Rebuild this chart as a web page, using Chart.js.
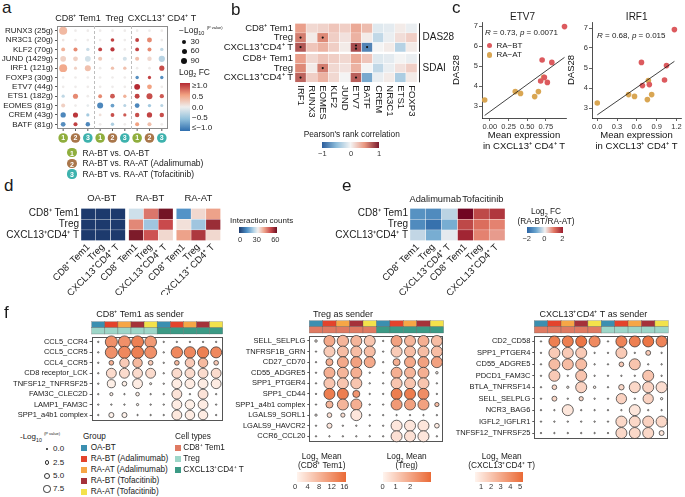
<!DOCTYPE html>
<html>
<head>
<meta charset="utf-8">
<script src="https://cdn.jsdelivr.net/npm/chart.js@4.4.1/dist/chart.umd.min.js"></script>
<style>
  body { margin: 0; width: 685px; height: 497px; position: relative; overflow: hidden; background: #fff;
         font-family: "Liberation Sans", Arial, sans-serif; color: #1a1a1a; }
  .t { position: absolute; white-space: nowrap; line-height: 1; }
  .box, .sw { position: absolute; }
  sub, sup { font-size: 65%; line-height: 0; }
</style>
</head>
<body>
<script>
// ---------- panel a: TF differential expression ----------
const aRows = ['RUNX3 (25g)', 'NR3C1 (20g)', 'KLF2 (70g)', 'JUND (1429g)', 'IRF1 (121g)', 'FOXP3 (30g)',
  'ETV7 (44g)', 'ETS1 (182g)', 'EOMES (81g)', 'CREM (43g)', 'BATF (81g)'];
const aCellTypes = ['CD8⁺ Tem1', 'Treg', 'CXCL13⁺ CD4⁺ T'];
const aComparisons = ['RA-BT vs. OA-BT', 'RA-BT vs. RA-AT (Adalimumab)', 'RA-BT vs. RA-AT (Tofacitinib)'];
const aColComp = [0, 1, 2, 0, 1, 2, 0, 1, 2];
const aFC = [
  [0.35, 0.02, 0.02, 0.02, 0.02, 0.02, 0.02, 0.02, 0.02],
  [0.05, 0.02, 0.02, 0.02, 0.9, 0.02, 0.9, 0.6, 0.02],
  [0.4, 0.6, -0.2, 0.9, 0.95, 0.02, 0.9, 0.6, -0.25],
  [0.2, 0.2, -0.15, 0.25, 0.02, -0.15, 0.3, 0.15, -0.3],
  [0.45, 0.2, 0.3, 0.02, 0.3, 0.3, 0.02, 0.02, 0.85],
  [0.02, 0.02, 0.02, 0.02, 0.02, 0.02, -0.8, 0.9, -0.8],
  [0.02, 0.02, 0.02, 0.02, 0.02, 0.02, 1.0, 0.5, 0.02],
  [-0.25, 0.6, 0.02, 0.6, 0.8, 0.4, 0.9, 0.85, 0.8],
  [0.2, 0.02, -0.05, -0.85, -0.7, -0.3, -0.85, -0.4, -0.3],
  [-0.85, 0.95, -0.4, 0.1, 0.85, 0.8, 0.85, 0.9, 0.85],
  [-0.8, 0.9, -0.85, 0.02, -0.35, 0.02, 0.5, 0.3, 0.02]
];
const aLogP = [
  [180, 1, 1, 1, 1, 1, 1, 1, 1],
  [2, 1, 1, 1, 20, 1, 25, 55, 1],
  [25, 30, 15, 25, 35, 1, 25, 28, 15],
  [80, 50, 80, 30, 2, 30, 30, 40, 100],
  [175, 8, 90, 1, 15, 15, 1, 1, 60],
  [1, 1, 1, 1, 1, 1, 15, 12, 15],
  [1, 1, 1, 1, 1, 1, 85, 50, 1],
  [12, 60, 2, 25, 50, 15, 55, 90, 35],
  [30, 2, 2, 90, 25, 8, 50, 15, 8],
  [65, 60, 12, 3, 25, 12, 40, 65, 40],
  [50, 30, 40, 2, 15, 2, 30, 30, 2]
];
const aSizeBreaks = [30, 60, 90];

// ---------- panel b: correlation with disease activity ----------
const bGenes = ['IRF1', 'RUNX3', 'EOMES', 'KLF2', 'JUND', 'ETV7', 'BATF', 'CREM', 'NR3C1', 'ETS1', 'FOXP3'];
const bRows = ['CD8⁺ Tem1', 'Treg', 'CXCL13⁺CD4⁺ T', 'CD8+ Tem1', 'Treg', 'CXCL13⁺CD4⁺ T'];
const bScores = ['DAS28', 'SDAI'];
const bR = [
  [0.45, 0.15, 0.18, 0.25, 0.2, 0.4, 0.3, -0.1, -0.08, 0.05, -0.05],
  [0.6, 0.05, 0.55, 0.2, 0.1, 0.35, 0.05, -0.25, -0.05, 0.12, 0.2],
  [0.75, 0.25, 0.35, 0.2, 0.05, 0.8, -0.8, 0.0, 0.05, -0.3, 0.05],
  [0.45, 0.15, 0.25, 0.2, 0.15, 0.4, 0.25, -0.1, -0.08, 0.0, -0.05],
  [0.55, 0.05, 0.6, 0.15, 0.1, 0.35, 0.0, -0.25, -0.05, 0.1, 0.2],
  [0.7, 0.2, 0.35, 0.15, 0.0, 0.72, -0.6, -0.05, 0.05, -0.35, 0.05]
];
const bStars = [[1, 0, 1], [1, 2, 1], [2, 0, 1], [2, 5, 2], [2, 6, 1], [4, 2, 1], [5, 0, 1], [5, 5, 1]];

// ---------- panel c: DAS28 vs mean expression ----------
const etv7BTx = [1.0, 0.70, 0.83, 0.68, 0.73, 0.77];
const etv7BTy = [6.97, 5.3, 5.18, 4.25, 4.43, 4.18];
const etv7ATx = [-0.07, 0.34, 0.41, 0.60, 0.65, 0.72];
const etv7ATy = [3.3, 3.72, 3.63, 3.47, 3.72, 4.43];
const irf1BTx = [1.17, 0.67, 1.05, 0.685, 0.79, 1.02];
const irf1BTy = [6.92, 5.28, 5.12, 4.12, 4.17, 4.4];
const irf1ATx = [0.0, 0.475, 0.565, 0.775, 0.825, 0.76];
const irf1ATy = [3.25, 3.67, 3.58, 4.37, 3.67, 3.42];
const etv7Ticks = [0, 0.25, 0.5, 0.75];
const irf1Ticks = [0, 0.3, 0.6, 0.9, 1.2];
const dasTicks = [3, 4, 5, 6, 7];

// ---------- panel d / e: interaction heatmaps ----------
const dGroups = ['OA-BT', 'RA-BT', 'RA-AT'];
const dCells = ['CD8⁺ Tem1', 'Treg', 'CXCL13⁺CD4⁺ T'];
const dColNames = [['CD8⁺ Tem1', 'Treg', 'CXCL13⁺CD4⁺ T'], ['CD8⁺ Tem1', 'Treg', 'CXCL13⁺CD4⁺ T'], ['CD8⁺ Tem1', 'Treg', 'CXCL13⁺ CD4⁺ T']];
const dCounts = [
  [[0, 0, 0], [0, 0, 0], [0, 0, 0]],
  [[26, 45, 59], [43, 21, 50], [58, 49, 33]],
  [[13, 33, 40], [32, 21, 55], [40, 53, 33]]
];
const eDrugs = ['Adalimumab', 'Tofacitinib'];
const eFC = [
  [-1.3, -1.4, -0.4, 2.4, 1.5, 1.7],
  [-1.4, -1.8, -0.9, 1.5, 1.1, 0.9],
  [-0.35, -0.9, -0.1, 1.9, 0.9, 0.7]
];

// ---------- panel f: ligand-receptor dot plots ----------
const fGroups = ['OA-BT', 'RA-BT (Adalimumab)', 'RA-AT (Adalimumab)', 'RA-BT (Tofacitinib)', 'RA-AT (Tofacitinib)'];
const fCellTypes = ['CD8⁺ Tem1', 'Treg', 'CXCL13⁺CD4⁺ T'];
const f1Rows = ['CCL5_CCR4', 'CCL5_CCR5', 'CCL4_CCR5', 'CD8 receptor_LCK', 'TNFSF12_TNFRSF25', 'FAM3C_CLEC2D', 'LAMP1_FAM3C', 'SPP1_a4b1 complex'];
const f1P = [
  [0, 18, 18, 18, 17, 0, 0, 0, 0, 0],
  [0, 18, 18, 18, 18, 0, 16, 16, 16, 15],
  [0, 2.5, 11, 11, 2.5, 0, 2.5, 11, 11, 2.5],
  [0, 12, 12, 12, 12, 0, 12, 12, 12, 12],
  [0, 8, 2.5, 12, 0.3, 0, 12, 12, 12, 12],
  [0, 1, 0, 1.4, 0, 0, 12, 0, 12, 0],
  [0, 0, 0, 0.4, 0, 0, 12, 11, 12, 0],
  [0, 3, 3, 0, 0, 0, 12, 11, 11, 0]
];
const f1Mean = [
  [0, 12, 12, 14, 11, 0, 0, 0, 0, 0],
  [0, 12, 13, 14, 12, 0, 13, 13, 14, 13],
  [0, 8, 5, 7, 5, 0, 7, 5, 7, 5],
  [0, 3, 3, 3, 3, 0, 3, 3, 3, 3],
  [0, 0.5, 0.5, 1, 0.5, 0, 1, 1, 1, 1],
  [0, 0.5, 0, 0.5, 0, 0, 2, 0, 2, 0],
  [0, 0, 0, 0, 0, 0, 1, 0.5, 1, 0],
  [0, 0.3, 0.3, 0, 0, 0, 1.5, 1, 1, 0]
];
const f2Rows = ['SELL_SELPLG', 'TNFRSF1B_GRN', 'CD27_CD70', 'CD55_ADGRE5', 'SPP1_PTGER4', 'SPP1_CD44', 'SPP1_a4b1 complex', 'LGALS9_SORL1', 'LGALS9_HAVCR2', 'CCR6_CCL20'];
const f2P = [
  [0.5, 15, 16, 15, 15, 0, 15, 15, 15, 15],
  [0, 15, 15, 15, 15, 0, 15, 15, 15, 15],
  [0, 6, 15, 15, 15, 0, 6, 15, 15, 15],
  [0, 15, 15, 15, 0, 0, 15, 15, 15, 0.5],
  [0, 15, 15, 15, 0, 0, 15, 15, 15, 0],
  [0, 15, 15, 6, 0, 0, 15, 15, 15, 0],
  [0, 6, 15, 15, 0, 0, 15, 15, 15, 2],
  [0.4, 2.5, 2, 15, 0, 0, 0, 0, 0, 0],
  [0, 3, 0, 0, 0, 0, 15, 15, 15, 2.5],
  [0, 0, 0, 0, 0, 0, 15, 15, 15, 0]
];
const f2Mean = [
  [0, 1.9, 1.6, 1.6, 1.2, 0, 2.1, 1.6, 1.75, 1.4],
  [0, 1.05, 1.4, 1.4, 1.4, 0, 1.05, 1.4, 1.4, 1.4],
  [0, 1.75, 1.9, 2.1, 1.9, 0, 1.75, 1.9, 2.1, 2.1],
  [0, 1.75, 1.6, 1.75, 0, 0, 1.75, 1.6, 1.75, 0],
  [0, 1.2, 1.2, 1.2, 0, 0, 1.2, 1.2, 1.2, 0],
  [0, 3.0, 3.0, 2.4, 0, 0, 3.0, 3.0, 2.6, 0],
  [0, 1.6, 1.6, 1.75, 0, 0, 2.3, 2.1, 2.1, 1.4],
  [0, 0.5, 0.5, 0.35, 0, 0, 0, 0, 0, 0],
  [0, 0.35, 0, 0, 0, 0, 0.35, 0.35, 0.35, 0.2],
  [0, 0, 0, 0, 0, 0, 0.5, 0.5, 0.35, 0]
];
const f3Rows = ['CD2_CD58', 'SPP1_PTGER4', 'CD55_ADGRE5', 'PDCD1_FAM3C', 'BTLA_TNFRSF14', 'SELL_SELPLG', 'NCR3_BAG6', 'IGFL2_IGFLR1', 'TNFSF12_TNFRSF25'];
const f3P = [
  [0, 15, 15, 15, 15, 0, 15, 15, 15, 15],
  [0, 15, 15, 15, 0, 0, 15, 0, 2.8, 0],
  [0, 15, 15, 15, 0, 0, 2.5, 15, 0, 0],
  [0, 15, 0, 15, 0, 0, 0, 0, 15, 0],
  [0, 2.5, 0.4, 15, 0.5, 0, 3.5, 15, 15, 15],
  [0, 2.8, 0, 2, 0, 0, 13, 0, 13, 0.4],
  [0, 0, 15, 0, 0, 0, 0, 15, 0, 0],
  [0, 0, 0, 0, 0, 0, 15, 15, 15, 15],
  [0, 0, 0, 0, 0, 0, 15, 15, 15, 2.8]
];
const f3Mean = [
  [0, 4.6, 4.6, 4.9, 4.2, 0, 4.4, 4.6, 4.9, 4.4],
  [0, 1.9, 1.9, 1.9, 0, 0, 1.9, 0, 1.9, 0],
  [0, 2.4, 2.4, 2.4, 0, 0, 1.9, 2.1, 0, 0],
  [0, 1.9, 0, 2.1, 0, 0, 0, 0, 2.1, 0],
  [0, 1.4, 0, 1.6, 0, 0, 1.4, 1.4, 1.6, 1.2],
  [0, 1.4, 0, 1.4, 0, 0, 1.6, 0, 1.6, 0],
  [0, 0, 0.9, 0, 0, 0, 0, 0.9, 0, 0],
  [0, 0, 0, 0, 0, 0, 1.4, 1.4, 1.6, 1.4],
  [0, 0, 0, 0, 0, 0, 1.4, 1.4, 1.4, 0.9]
];
const fSizeBreaks = [0, 2.5, 5, 7.5];

// ---------- colours ----------
const compColors = ['#8fae3d', '#a9764a', '#3db2ad'];
const groupColors = ['#3b8fb0', '#e3432c', '#f6a646', '#a5323a', '#f3e24b'];
const cellColors = ['#df7a62', '#9dd6c8', '#3b9a85'];
const RED = '#dc5a5e', GOLD = '#d9a653';
const FONT = '"Liberation Sans", Arial, sans-serif';

const aStops = [[-1, '#2f6eae'], [-0.5, '#92c1dc'], [0, '#eeeeee'], [0.5, '#f2a282'], [1, '#b52a33']];
const bStops = [[-1, '#2b5d9c'], [-0.5, '#8dbcda'], [0, '#f4f4f4'], [0.5, '#e9967f'], [1, '#7b1a2d']];
const dStops = [[0, '#1d3a6d'], [12, '#4b8dc4'], [24, '#bcd8e8'], [30, '#f3efed'], [40, '#eda28a'], [50, '#c94a4c'], [60, '#6a0f21']];
const eStops = [[-2, '#2a64a5'], [-1, '#6aa5cf'], [0, '#f1f1f1'], [1, '#e27662'], [2, '#9a1c2e'], [2.5, '#67001f']];
const fStops = [[0, '#fff4ee'], [1, '#ea6a36']];

const hex = h => [1, 3, 5].map(i => parseInt(h.slice(i, i + 2), 16));
function ramp(stops) {
  const s = stops.map(([v, c]) => [v, hex(c)]);
  return v => {
    let c = s[s.length - 1][1];
    if (v <= s[0][0]) c = s[0][1];
    else for (let i = 1; i < s.length; i++) {
      if (v <= s[i][0]) {
        const t = (v - s[i - 1][0]) / (s[i][0] - s[i - 1][0]);
        c = s[i - 1][1].map((a, k) => Math.round(a + (s[i][1][k] - a) * t));
        break;
      }
    }
    return 'rgb(' + c.join(',') + ')';
  };
}
function grad(stops, dir) {
  const lo = stops[0][0], hi = stops[stops.length - 1][0];
  return 'linear-gradient(' + dir + ',' + stops.map(([v, c]) => c + ' ' + ((v - lo) / (hi - lo) * 100) + '%').join(',') + ')';
}
const aColor = ramp(aStops), bColor = ramp(bStops), dColor = ramp(dStops), eColor = ramp(eStops);
const fColor = (lo, hi) => { const r = ramp(fStops); return v => r((v - lo) / (hi - lo)); };
const rA = p => Math.sqrt(1.69 + 0.081 * p);
const rF = p => Math.sqrt(0.5 + 2 * p);

// ---------- dom helpers ----------
function mk(l, t, w, h) {
  const d = document.createElement('div');
  d.className = 'box';
  Object.assign(d.style, { left: l + 'px', top: t + 'px', width: w + 'px', height: h + 'px' });
  const c = document.createElement('canvas');
  d.appendChild(c);
  document.body.appendChild(d);
  return c;
}
function put(x, y, html, size, align, extra) {
  const d = document.createElement('div');
  d.className = 't';
  d.innerHTML = html;
  d.style.left = x + 'px';
  d.style.top = y + 'px';
  d.style.fontSize = size + 'px';
  d.style.transform = 'translate(' + (align === 'c' ? '-50%' : align === 'r' ? '-100%' : '0') + ',-50%)';
  if (extra) Object.assign(d.style, extra);
  document.body.appendChild(d);
  return d;
}
function rect(l, t, w, h, bg, extra) {
  const d = document.createElement('div');
  d.className = 'sw';
  Object.assign(d.style, { left: l + 'px', top: t + 'px', width: w + 'px', height: h + 'px', background: bg }, extra || {});
  document.body.appendChild(d);
  return d;
}
const disc = (cx, cy, r, bg, border) => rect(cx - r, cy - r, 2 * r, 2 * r, bg, { borderRadius: '50%', border: border || 'none', boxSizing: 'border-box' });

Chart.defaults.font.family = FONT;
Chart.defaults.color = '#1a1a1a';
Chart.defaults.animation = false;
Chart.defaults.events = [];
Chart.defaults.maintainAspectRatio = false;
Chart.defaults.plugins.legend.display = false;
Chart.defaults.plugins.tooltip.enabled = false;

function rowAxis(labels, w, size, min, max, pos, tick) {
  return {
    min, max, reverse: true,
    afterBuildTicks: s => { s.ticks = labels.map((_, i) => ({ value: pos[i] })); },
    afterFit: s => { s.width = w; s.paddingTop = 0; s.paddingBottom = 0; },
    ticks: { autoSkip: false, padding: 2, font: { size }, color: '#1a1a1a', callback: (v, i) => labels[i] },
    grid: { display: !!tick, drawOnChartArea: false, drawTicks: !!tick, tickLength: 2, color: '#555' },
    border: { display: false }
  };
}
const frame = color => ({
  id: 'frame',
  beforeDatasetsDraw(ch) {
    const { ctx, chartArea: a } = ch;
    ctx.save();
    ctx.strokeStyle = color;
    ctx.lineWidth = 1;
    ctx.strokeRect(Math.round(a.left) + 0.5, Math.round(a.top) + 0.5, Math.round(a.width) - 1, Math.round(a.height) - 1);
    ctx.restore();
  }
});

// ================= panel a =================
const aPts = [];
aRows.forEach((r, i) => aColComp.forEach((k, j) => aPts.push({ x: j, y: i, fc: aFC[i][j], p: aLogP[i][j] })));
const aDeco = {
  id: 'aDeco',
  beforeDatasetsDraw(ch) {
    const { ctx, chartArea: a, scales: { x } } = ch;
    ctx.save();
    ctx.strokeStyle = '#bdbdbd';
    ctx.setLineDash([3, 2]);
    [2.5, 5.5].forEach(v => {
      const px = Math.round(x.getPixelForValue(v)) + 0.5;
      ctx.beginPath(); ctx.moveTo(px, a.top); ctx.lineTo(px, a.bottom); ctx.stroke();
    });
    ctx.restore();
  },
  afterDraw(ch) {
    const { ctx, chartArea: a, scales: { x } } = ch;
    ctx.save();
    ctx.font = 'bold 7px ' + FONT;
    ctx.textAlign = 'center';
    ctx.textBaseline = 'middle';
    aColComp.forEach((k, j) => {
      const px = x.getPixelForValue(j);
      ctx.strokeStyle = '#555';
      ctx.beginPath(); ctx.moveTo(px, a.bottom); ctx.lineTo(px, a.bottom + 2); ctx.stroke();
      ctx.fillStyle = compColors[k];
      ctx.beginPath(); ctx.arc(px, a.bottom + 9, 4.8, 0, 2 * Math.PI); ctx.fill();
      ctx.fillStyle = '#fff';
      ctx.fillText(String(k + 1), px, a.bottom + 9.4);
    });
    ctx.restore();
  }
};
new Chart(mk(0, 20, 172, 125), {
  type: 'scatter',
  data: { datasets: [{
    data: aPts, clip: false,
    pointRadius: c => rA(c.raw.p),
    pointBackgroundColor: c => aColor(c.raw.fc),
    pointBorderWidth: 0
  }] },
  options: {
    layout: { padding: { top: 6, bottom: 16, left: 0, right: 0 } },
    scales: {
      x: { min: -0.5, max: 8.5, display: false },
      y: rowAxis(aRows, 57, 8, -0.5, aRows.length - 0.5, aRows.map((_, i) => i), true)
    }
  },
  plugins: [frame('#8c8c8c'), aDeco]
});

put(2, 7, 'a', 17);
[[78, 0], [114.5, 1], [162, 2]].forEach(([x, k]) => put(x, 18.3, aCellTypes[k], 9, 'c'));
put(179, 30, '−Log<sub>10</sub> <sup style="font-size:4px">(P value)</sup>', 8.5);
aSizeBreaks.forEach((v, i) => {
  const y = [41.7, 51.3, 60.7][i];
  disc(184.3, y, rA(v), '#111');
  put(190.5, y, String(v), 8);
});
put(179, 72, 'Log<sub>2</sub> FC', 8.5);
rect(180, 83, 10, 48, grad(aStops, 'to top'));
[['≥1.0', 86], ['0.5', 97], ['0.0', 107.7], ['−0.5', 118.3], ['≤−1.0', 128.3]].forEach(([s, y]) => put(192, y, s, 8));
aComparisons.forEach((s, i) => {
  const y = [152.5, 163.2, 174][i];
  disc(72, y, 4.6, compColors[i]);
  put(72, y + 0.3, String(i + 1), 7, 'c', { color: '#fff', fontWeight: 'bold' });
  put(82.5, y, s, 8.5);
});

// ================= heatmap helper (b, d, e) =================
function heat(canvas, o) {
  const sets = [], ys = [];
  let acc = 0;
  o.vals.forEach((row, i) => {
    sets.push({ data: o.xs.map(x => ({ x, y: 1 })), backgroundColor: row.map(o.color), borderColor: '#fff', borderWidth: 0.5,
      borderSkipped: false, barPercentage: 1, categoryPercentage: 1 });
    ys.push(acc + 0.5);
    acc += 1;
    if (i === o.gapAfter) {
      sets.push({ data: o.xs.map(x => ({ x, y: 0.2 })), backgroundColor: 'rgba(0,0,0,0)', borderWidth: 0, barPercentage: 1, categoryPercentage: 1 });
      acc += 0.2;
    }
  });
  const xAxis = { type: 'linear', stacked: true, offset: false, min: o.xs[0] - 0.5, max: o.xs[o.xs.length - 1] + 0.5 };
  if (o.colLabels) {
    Object.assign(xAxis, {
      afterBuildTicks: s => { s.ticks = o.xs.map(v => ({ value: v })); },
      afterFit: s => { s.height = o.xH; s.paddingLeft = 0; s.paddingRight = 0; },
      ticks: { autoSkip: false, minRotation: 45, maxRotation: 45, padding: 1, font: { size: o.fsX }, color: '#1a1a1a', callback: (v, i) => o.colLabels[i] },
      grid: { display: false, drawTicks: false, offset: false },
      border: { display: false }
    });
  } else xAxis.display = false;
  const yAxis = rowAxis(o.rows, o.yW, o.fsY, 0, acc, ys, false);
  yAxis.stacked = true;
  return new Chart(canvas, {
    type: 'bar',
    data: { datasets: sets },
    options: { layout: { padding: o.pad }, scales: { x: xAxis, y: yAxis } },
    plugins: o.plugins || []
  });
}

// ================= panel b =================
const bRowY = [0.5, 1.5, 2.5, 3.7, 4.7, 5.7];
const bDeco = {
  id: 'bDeco',
  afterDraw(ch) {
    const { ctx, chartArea: a, scales: { x, y } } = ch;
    ctx.save();
    ctx.fillStyle = '#1a1a1a';
    ctx.font = '9.5px ' + FONT;
    ctx.textAlign = 'left';
    ctx.textBaseline = 'middle';
    bGenes.forEach((g, j) => {
      ctx.save();
      ctx.translate(x.getPixelForValue(j), a.bottom + 3);
      ctx.rotate(Math.PI / 2);
      ctx.fillText(g, 0, 0);
      ctx.restore();
    });
    ctx.fillStyle = '#111';
    bStars.forEach(([r, c, n]) => {
      const px = x.getPixelForValue(c), py = y.getPixelForValue(bRowY[r]);
      for (let k = 0; k < n; k++) {
        ctx.beginPath();
        ctx.arc(px, py + (n > 1 ? (k - 0.5) * 3.2 : 0), 1.1, 0, 2 * Math.PI);
        ctx.fill();
      }
    });
    ctx.strokeStyle = '#333';
    ctx.lineWidth = 1;
    ctx.font = '10px ' + FONT;
    const lx = Math.round(a.right + 2) + 0.5;
    [[0, 3], [3.2, 6.2]].forEach(([t, b], k) => {
      const y0 = y.getPixelForValue(t), y1 = y.getPixelForValue(b);
      ctx.beginPath(); ctx.moveTo(lx, y0); ctx.lineTo(lx, y1); ctx.stroke();
      ctx.fillStyle = '#1a1a1a';
      ctx.fillText(bScores[k], lx + 3, (y0 + y1) / 2);
    });
    ctx.restore();
  }
};
heat(mk(215, 20, 245, 100), {
  rows: bRows, vals: bR, xs: bGenes.map((_, j) => j), color: bColor, gapAfter: 2,
  yW: 80, fsY: 9.5, pad: { top: 3.3, right: 43, bottom: 37.7, left: 0 }, plugins: [bDeco]
});
put(231, 8.5, 'b', 17);
put(351.7, 134, 'Pearson\'s rank correlation', 8.3, 'c');
rect(322, 141.7, 57, 6, grad(bStops, 'to right'));
[['−1', 322.3], ['0', 351], ['1', 379]].forEach(([s, x]) => put(x, 154, s, 7.5, 'c', { color: '#333' }));

// ================= panel c =================
function fitLine(xs, ys) {
  const n = xs.length;
  const mx = xs.reduce((s, v) => s + v, 0) / n, my = ys.reduce((s, v) => s + v, 0) / n;
  let sxy = 0, sxx = 0;
  xs.forEach((v, i) => { sxy += (v - mx) * (ys[i] - my); sxx += (v - mx) * (v - mx); });
  const b = sxy / sxx, a0 = my - b * mx;
  const lo = Math.min(...xs), hi = Math.max(...xs);
  return [{ x: lo, y: a0 + b * lo }, { x: hi, y: a0 + b * hi }];
}
const pts = (xs, ys) => xs.map((x, i) => ({ x, y: ys[i] }));
function cAxis(min, max, ticks, dec, title, size, horiz) {
  return {
    type: 'linear', min, max,
    afterBuildTicks: s => { s.ticks = ticks.map(v => ({ value: v })); },
    afterFit: s => {
      if (horiz) s.height = size; else s.width = size;
      s.paddingLeft = s.paddingRight = s.paddingTop = s.paddingBottom = 0;
    },
    ticks: { autoSkip: false, maxRotation: 0, minRotation: 0, padding: 1, font: { size: 7.5 }, color: '#333', callback: v => v.toFixed(dec) },
    grid: { drawOnChartArea: false, drawTicks: true, tickLength: 3, color: '#222', lineWidth: 0.7 },
    border: { display: true, color: '#222', width: 0.8 },
    title: { display: true, text: title, font: { size: 9.5 }, color: '#111', padding: { top: 1, bottom: 0 } }
  };
}
function corrPanel(canvas, btX, btY, atX, atY, xr, xTicks, dec, yr, yW, pad) {
  return new Chart(canvas, {
    type: 'scatter',
    data: { datasets: [
      { data: fitLine(btX.concat(atX), btY.concat(atY)), showLine: true, pointRadius: 0, borderColor: '#111', borderWidth: 0.8, clip: false },
      { data: pts(btX, btY), pointRadius: 2.8, pointBackgroundColor: RED, pointBorderWidth: 0, clip: false },
      { data: pts(atX, atY), pointRadius: 2.8, pointBackgroundColor: GOLD, pointBorderWidth: 0, clip: false }
    ] },
    options: {
      layout: { padding: pad },
      scales: {
        x: cAxis(xr[0], xr[1], xTicks, dec, ['Mean expression', 'in CXCL13⁺ CD4⁺ T'], 34, true),
        y: cAxis(yr[0], yr[1], dasTicks, 0, 'DAS28', yW, false)
      }
    }
  });
}
corrPanel(mk(450, 10, 120, 142), etv7BTx, etv7BTy, etv7ATx, etv7ATy, [-0.106, 1.02], etv7Ticks, 2, [2.4, 7.2], 32, { top: 12, right: 3, left: 0, bottom: 0 });
corrPanel(mk(565, 10, 120, 142), irf1BTx, irf1BTy, irf1ATx, irf1ATy, [-0.08, 1.27], irf1Ticks, 1, [2.5, 7.3], 27, { top: 12, right: 3, left: 0, bottom: 0 });
put(452, 6.5, 'c', 17);
put(522.5, 16.7, 'ETV7', 10, 'c');
put(636.7, 16.7, 'IRF1', 10, 'c');
put(485, 33, '<i>R</i> = 0.73, <i>p</i> = 0.0071', 8);
put(597, 35.5, '<i>R</i> = 0.68, <i>p</i> = 0.015', 8);
disc(489.3, 45.7, 2.8, RED); put(496.5, 45.7, 'RA−BT', 8);
disc(489.3, 55, 2.8, GOLD); put(496.5, 55, 'RA−AT', 8);

// ================= panel d =================
const dXs = [], dLabels = [];
dGroups.forEach((g, gi) => dCells.forEach((c, j) => { dXs.push(gi * 3.22 + j); dLabels.push(dColNames[gi][j]); }));
heat(mk(0, 195, 232, 100), {
  rows: dCells, vals: dCells.map((_, r) => dGroups.flatMap((g, gi) => dCounts[gi][r])), xs: dXs, colLabels: dLabels,
  color: dColor, yW: 81, fsY: 10, fsX: 9.5, xH: 54.3, pad: { top: 13.3, right: 11.3, left: 0, bottom: 0 }
});
put(4, 185, 'd', 17);
[[101.7, 0], [150, 1], [198.3, 2]].forEach(([x, k]) => put(x, 198.3, dGroups[k], 9.5, 'c'));
put(230, 221, 'Interaction counts', 8);
rect(239.3, 227.3, 37.4, 6, grad(dStops, 'to right'));
[['0', 240], ['30', 256.7], ['60', 275.3]].forEach(([s, x]) => put(x, 240, s, 7.5, 'c', { color: '#333' }));

// ================= panel e =================
heat(mk(330, 195, 180, 100), {
  rows: dCells, vals: eFC, xs: eFC[0].map((_, j) => j), colLabels: eFC[0].map((_, j) => dColNames[0][j % 3]),
  color: eColor, yW: 80, fsY: 10, fsX: 9.5, xH: 54.3, pad: { top: 13.3, right: 5, left: 0, bottom: 0 }
});
put(342, 184.5, 'e', 17);
put(435.3, 200, eDrugs[0], 9.3, 'c');
put(482.8, 200, eDrugs[1], 9.3, 'c');
put(546, 211, 'Log<sub>2</sub> FC', 8.3, 'c');
put(546, 221, '(RA-BT/RA-AT)', 8.3, 'c');
rect(527.3, 226.7, 35.4, 6, grad(eStops.slice(0, 5), 'to right'));
[['−2', 526.7], ['0', 544.3], ['2', 562.3]].forEach(([s, x]) => put(x, 239.3, s, 7.5, 'c', { color: '#333' }));

// ================= panel f =================
const strips = recv => ({
  id: 'strips',
  afterDraw(ch) {
    const { ctx, chartArea: a, scales: { x } } = ch;
    const w = x.getPixelForValue(1) - x.getPixelForValue(0);
    ctx.save();
    ctx.strokeStyle = 'rgba(80,80,80,0.55)';
    ctx.lineWidth = 0.5;
    for (let j = 0; j < 10; j++) {
      const l = x.getPixelForValue(j) - w / 2;
      ctx.fillStyle = groupColors[j % 5];
      ctx.fillRect(l, a.top - 15, w, 6);
      ctx.strokeRect(l, a.top - 15, w, 6);
      ctx.fillStyle = cellColors[recv[Math.floor(j / 5)]];
      ctx.fillRect(l, a.top - 9, w, 6.3);
      ctx.strokeRect(l, a.top - 9, w, 6.3);
    }
    ctx.restore();
  }
});
function dotPlot(canvas, rows, P, M, lo, hi, recv, yW, pad) {
  const col = fColor(lo, hi);
  const data = [];
  rows.forEach((r, i) => P[i].forEach((p, j) => data.push({ x: j, y: i, p, m: M[i][j] })));
  return new Chart(canvas, {
    type: 'scatter',
    data: { datasets: [{
      data, clip: false,
      pointRadius: c => rF(c.raw.p),
      pointBackgroundColor: c => col(c.raw.m),
      pointBorderColor: '#2a2a2a',
      pointBorderWidth: 0.7
    }] },
    options: {
      layout: { padding: pad },
      scales: {
        x: { min: -0.5, max: 9.5, display: false },
        y: rowAxis(rows, yW, 7.5, -0.5, rows.length - 0.5, rows.map((_, i) => i), true)
      }
    },
    plugins: [frame('#555'), strips(recv)]
  });
}
dotPlot(mk(0, 315, 230, 112), f1Rows, f1P, f1Mean, 0, 16.6, [1, 2], 91.7, { top: 21.7, right: 7.3, bottom: 3.7, left: 0 });
dotPlot(mk(225, 315, 225, 133), f2Rows, f2P, f2Mean, 0, 3.5, [0, 2], 84.3, { top: 20.7, right: 6, bottom: 4, left: 0 });
dotPlot(mk(440, 315, 245, 130), f3Rows, f3P, f3Mean, 0.38, 5.34, [0, 1], 94.3, { top: 20.7, right: 16.7, bottom: 5, left: 0 });

put(4, 311.5, 'f', 17);
put(140, 314, fCellTypes[0] + ' as sender', 9, 'c');
put(343, 314, fCellTypes[1] + ' as sender', 9, 'c');
put(593.3, 314, fCellTypes[2] + ' as sender', 9, 'c');

put(20, 437, '-Log<sub>10</sub> <sup style="font-size:4px">(P value)</sup>', 8);
fSizeBreaks.forEach((v, i) => {
  const y = [449, 462.7, 475.7, 489][i];
  const r = [0.8, 2.3, 3.2, 3.7][i];
  disc(47, y, r, i ? '#fff' : '#333', i ? '1px solid #333' : 'none');
  put(53, y, v.toFixed(1), 8);
});
put(83, 437, 'Group', 8.2);
fGroups.forEach((g, i) => {
  const y = [448.3, 459.3, 470, 480.7, 491.7][i];
  rect(81, y - 3, 6, 6, groupColors[i]);
  put(90.7, y, g, 8.2);
});
put(175, 437, 'Cell types', 8.2);
fCellTypes.forEach((c, i) => {
  const y = [448.3, 459.3, 470][i];
  rect(175, y - 3, 6, 6, cellColors[i]);
  put(183.3, y, c, 8.2);
});
const fBars = [
  { cx: 321.7, sub: '(CD8⁺ Tem1)', l: 297.3, r: 346, ticks: [['0', 295], ['4', 307.7], ['8', 319], ['12', 331.7], ['16', 344.3]] },
  { cx: 406.7, sub: '(Treg)', l: 382.7, r: 430.7, ticks: [['0', 382.7], ['1', 395.7], ['2', 410]] },
  { cx: 501.7, sub: '(CXCL13⁺CD4⁺ T)', l: 475, r: 523.3, ticks: [['1', 481], ['2', 491], ['3', 500.7], ['4', 510.3], ['5', 520]] }
];
fBars.forEach(b => {
  put(b.cx, 455.7, 'Log<sub>2</sub> Mean', 8.3, 'c');
  put(b.cx, 465, b.sub, 8.3, 'c');
  rect(b.l, 472.3, b.r - b.l, 9.4, grad(fStops, 'to right'));
  b.ticks.forEach(([s, x]) => put(x, 487.3, s, 7.5, 'c', { color: '#333' }));
});
</script>
</body>
</html>
